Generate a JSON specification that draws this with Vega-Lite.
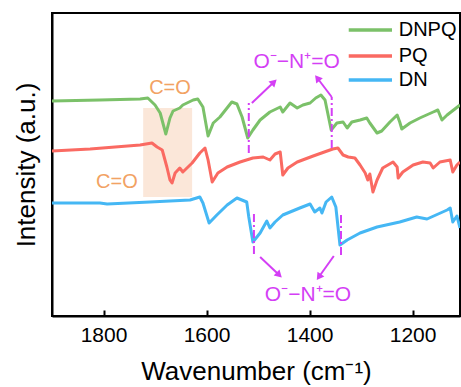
{
  "$schema": "https://vega.github.io/schema/vega-lite/v6.json",
  "width": 408,
  "height": 303,
  "autosize": "none",
  "padding": {"left": 52, "top": 13, "right": 1, "bottom": 71},
  "background": "white",
  "config": {
    "font": "Liberation Sans",
    "view": {"stroke": "black", "strokeWidth": 2},
    "axis": {"grid": false}
  },
  "datasets": {
    "spectra": [
      {"s":"DNPQ","wn":1900,"i":215},{"s":"DNPQ","wn":1807,"i":216},{"s":"DNPQ","wn":1729,"i":217},{"s":"DNPQ","wn":1714,"i":218},{"s":"DNPQ","wn":1700,"i":211},{"s":"DNPQ","wn":1690,"i":203},{"s":"DNPQ","wn":1679,"i":182},{"s":"DNPQ","wn":1671,"i":198},{"s":"DNPQ","wn":1665,"i":205},{"s":"DNPQ","wn":1652,"i":208},{"s":"DNPQ","wn":1646,"i":211},{"s":"DNPQ","wn":1626,"i":216},{"s":"DNPQ","wn":1617,"i":217},{"s":"DNPQ","wn":1607,"i":209},{"s":"DNPQ","wn":1597,"i":180},{"s":"DNPQ","wn":1587,"i":193},{"s":"DNPQ","wn":1574,"i":199},{"s":"DNPQ","wn":1551,"i":214},{"s":"DNPQ","wn":1541,"i":212},{"s":"DNPQ","wn":1531,"i":199},{"s":"DNPQ","wn":1520,"i":178},{"s":"DNPQ","wn":1510,"i":186},{"s":"DNPQ","wn":1496,"i":196},{"s":"DNPQ","wn":1477,"i":204},{"s":"DNPQ","wn":1457,"i":209},{"s":"DNPQ","wn":1452,"i":204},{"s":"DNPQ","wn":1438,"i":213},{"s":"DNPQ","wn":1424,"i":208},{"s":"DNPQ","wn":1413,"i":211},{"s":"DNPQ","wn":1399,"i":213},{"s":"DNPQ","wn":1388,"i":218},{"s":"DNPQ","wn":1378,"i":221},{"s":"DNPQ","wn":1370,"i":216},{"s":"DNPQ","wn":1358,"i":186},{"s":"DNPQ","wn":1347,"i":193},{"s":"DNPQ","wn":1335,"i":194},{"s":"DNPQ","wn":1327,"i":188},{"s":"DNPQ","wn":1318,"i":194},{"s":"DNPQ","wn":1302,"i":196},{"s":"DNPQ","wn":1289,"i":198},{"s":"DNPQ","wn":1283,"i":193},{"s":"DNPQ","wn":1269,"i":183},{"s":"DNPQ","wn":1260,"i":185},{"s":"DNPQ","wn":1244,"i":194},{"s":"DNPQ","wn":1230,"i":201},{"s":"DNPQ","wn":1225,"i":194},{"s":"DNPQ","wn":1221,"i":187},{"s":"DNPQ","wn":1205,"i":193},{"s":"DNPQ","wn":1186,"i":198},{"s":"DNPQ","wn":1160,"i":204},{"s":"DNPQ","wn":1151,"i":206},{"s":"DNPQ","wn":1143,"i":196},{"s":"DNPQ","wn":1133,"i":201},{"s":"DNPQ","wn":1108,"i":211},
      {"s":"PQ","wn":1900,"i":165},{"s":"PQ","wn":1826,"i":167},{"s":"PQ","wn":1729,"i":171},{"s":"PQ","wn":1706,"i":173},{"s":"PQ","wn":1696,"i":169},{"s":"PQ","wn":1686,"i":166},{"s":"PQ","wn":1677,"i":149},{"s":"PQ","wn":1671,"i":136},{"s":"PQ","wn":1667,"i":133},{"s":"PQ","wn":1661,"i":143},{"s":"PQ","wn":1652,"i":148},{"s":"PQ","wn":1646,"i":144},{"s":"PQ","wn":1628,"i":153},{"s":"PQ","wn":1613,"i":163},{"s":"PQ","wn":1603,"i":168},{"s":"PQ","wn":1597,"i":156},{"s":"PQ","wn":1589,"i":134},{"s":"PQ","wn":1578,"i":143},{"s":"PQ","wn":1560,"i":149},{"s":"PQ","wn":1535,"i":154},{"s":"PQ","wn":1510,"i":158},{"s":"PQ","wn":1490,"i":159},{"s":"PQ","wn":1477,"i":156},{"s":"PQ","wn":1467,"i":162},{"s":"PQ","wn":1457,"i":164},{"s":"PQ","wn":1452,"i":141},{"s":"PQ","wn":1442,"i":148},{"s":"PQ","wn":1424,"i":154},{"s":"PQ","wn":1393,"i":160},{"s":"PQ","wn":1355,"i":167},{"s":"PQ","wn":1345,"i":168},{"s":"PQ","wn":1335,"i":161},{"s":"PQ","wn":1325,"i":159},{"s":"PQ","wn":1312,"i":158},{"s":"PQ","wn":1302,"i":151},{"s":"PQ","wn":1292,"i":143},{"s":"PQ","wn":1287,"i":136},{"s":"PQ","wn":1283,"i":142},{"s":"PQ","wn":1277,"i":124},{"s":"PQ","wn":1269,"i":136},{"s":"PQ","wn":1258,"i":148},{"s":"PQ","wn":1238,"i":154},{"s":"PQ","wn":1230,"i":149},{"s":"PQ","wn":1228,"i":138},{"s":"PQ","wn":1219,"i":144},{"s":"PQ","wn":1199,"i":151},{"s":"PQ","wn":1180,"i":154},{"s":"PQ","wn":1166,"i":153},{"s":"PQ","wn":1160,"i":148},{"s":"PQ","wn":1147,"i":154},{"s":"PQ","wn":1127,"i":156},{"s":"PQ","wn":1122,"i":144},{"s":"PQ","wn":1114,"i":151},{"s":"PQ","wn":1108,"i":154},
      {"s":"DN","wn":1900,"i":113},{"s":"DN","wn":1807,"i":113},{"s":"DN","wn":1793,"i":112},{"s":"DN","wn":1710,"i":114},{"s":"DN","wn":1632,"i":116},{"s":"DN","wn":1613,"i":119},{"s":"DN","wn":1607,"i":113},{"s":"DN","wn":1595,"i":93},{"s":"DN","wn":1580,"i":101},{"s":"DN","wn":1560,"i":111},{"s":"DN","wn":1541,"i":118},{"s":"DN","wn":1522,"i":114},{"s":"DN","wn":1518,"i":99},{"s":"DN","wn":1510,"i":74},{"s":"DN","wn":1496,"i":83},{"s":"DN","wn":1483,"i":95},{"s":"DN","wn":1477,"i":88},{"s":"DN","wn":1467,"i":94},{"s":"DN","wn":1452,"i":101},{"s":"DN","wn":1419,"i":108},{"s":"DN","wn":1399,"i":112},{"s":"DN","wn":1390,"i":104},{"s":"DN","wn":1380,"i":108},{"s":"DN","wn":1376,"i":103},{"s":"DN","wn":1368,"i":114},{"s":"DN","wn":1357,"i":119},{"s":"DN","wn":1349,"i":109},{"s":"DN","wn":1341,"i":71},{"s":"DN","wn":1327,"i":76},{"s":"DN","wn":1302,"i":83},{"s":"DN","wn":1269,"i":89},{"s":"DN","wn":1225,"i":94},{"s":"DN","wn":1192,"i":99},{"s":"DN","wn":1172,"i":97},{"s":"DN","wn":1133,"i":106},{"s":"DN","wn":1127,"i":108},{"s":"DN","wn":1122,"i":94},{"s":"DN","wn":1114,"i":100},{"s":"DN","wn":1108,"i":88}
    ]
  },
  "layer": [
    {
      "data": {"values": [{"a": 1723, "b": 1628, "y1": 119, "y2": 208}]},
      "mark": {"type": "rect", "color": "#FBE7D9"},
      "encoding": {
        "x": {"field": "a", "type": "quantitative"},
        "x2": {"field": "b"},
        "y": {"field": "y1", "type": "quantitative"},
        "y2": {"field": "y2"}
      }
    },
    {
      "data": {"name": "spectra"},
      "mark": {"type": "line", "strokeWidth": 3, "clip": true, "strokeJoin": "round"},
      "encoding": {
        "x": {
          "field": "wn", "type": "quantitative",
          "scale": {"domain": [1108, 1900], "reverse": true, "nice": false, "zero": false},
          "axis": {
            "values": [1800, 1600, 1400, 1200], "format": "d",
            "title": "Wavenumber (cm⁻¹)",
            "titleFontSize": 26, "titleFontWeight": "normal", "titleColor": "black", "titlePadding": 13,
            "labelFontSize": 21, "labelColor": "black", "labelPadding": 14,
            "tickSize": -6, "tickWidth": 2, "tickColor": "black",
            "domainColor": "black", "domainWidth": 2
          }
        },
        "y": {
          "field": "i", "type": "quantitative",
          "scale": {"domain": [0, 303], "nice": false, "zero": false},
          "axis": {
            "title": "Intensity (a.u.)", "labels": false, "ticks": false,
            "titleFontSize": 26, "titleFontWeight": "normal", "titleColor": "black", "titlePadding": 13,
            "domainColor": "black", "domainWidth": 2
          }
        },
        "color": {
          "field": "s", "type": "nominal",
          "scale": {"domain": ["DNPQ", "PQ", "DN"], "range": ["#7BC169", "#FA6A62", "#45B7F4"]},
          "legend": null
        },
        "order": {"field": "wn", "type": "quantitative", "sort": "descending"}
      }
    },
    {
      "data": {"values": [
        {"s": "DNPQ", "xa": 1324, "xb": 1240, "y": 286},
        {"s": "PQ", "xa": 1324, "xb": 1240, "y": 260},
        {"s": "DN", "xa": 1324, "xb": 1240, "y": 236}
      ]},
      "mark": {"type": "rule", "strokeWidth": 3.5},
      "encoding": {
        "x": {"field": "xa", "type": "quantitative"},
        "x2": {"field": "xb"},
        "y": {"field": "y", "type": "quantitative"},
        "color": {"field": "s", "type": "nominal"}
      }
    },
    {
      "data": {"values": [
        {"s": "DNPQ", "x": 1227, "y": 286},
        {"s": "PQ", "x": 1227, "y": 260},
        {"s": "DN", "x": 1227, "y": 236}
      ]},
      "mark": {"type": "text", "color": "black", "fontSize": 20, "align": "left", "baseline": "middle"},
      "encoding": {
        "x": {"field": "x", "type": "quantitative"},
        "y": {"field": "y", "type": "quantitative"},
        "text": {"field": "s"}
      }
    },
    {
      "data": {"values": [
        {"wn": 1518, "ya": 163, "yb": 213},
        {"wn": 1357, "ya": 168, "yb": 219},
        {"wn": 1508, "ya": 62, "yb": 104},
        {"wn": 1339, "ya": 61, "yb": 104}
      ]},
      "mark": {"type": "rule", "color": "#D43FF5", "strokeWidth": 2, "strokeDash": [8, 3, 2, 3]},
      "encoding": {
        "x": {"field": "wn", "type": "quantitative"},
        "y": {"field": "ya", "type": "quantitative"},
        "y2": {"field": "yb"}
      }
    },
    {
      "data": {"values": [
        {"xa": 1512, "ya": 213, "xb": 1469, "yb": 234},
        {"xa": 1357, "ya": 219, "xb": 1385, "yb": 238},
        {"xa": 1496, "ya": 59, "xb": 1459, "yb": 41},
        {"xa": 1353, "ya": 60, "xb": 1382, "yb": 39}
      ]},
      "mark": {"type": "rule", "color": "#D43FF5", "strokeWidth": 2},
      "encoding": {
        "x": {"field": "xa", "type": "quantitative"},
        "x2": {"field": "xb"},
        "y": {"field": "ya", "type": "quantitative"},
        "y2": {"field": "yb"}
      }
    },
    {
      "data": {"values": [{"wn": 1469, "y": 234}]},
      "mark": {"type": "point", "shape": "triangle-up", "filled": true, "color": "#D43FF5", "opacity": 1, "size": 70, "angle": 46},
      "encoding": {"x": {"field": "wn", "type": "quantitative"}, "y": {"field": "y", "type": "quantitative"}}
    },
    {
      "data": {"values": [{"wn": 1385, "y": 238}]},
      "mark": {"type": "point", "shape": "triangle-up", "filled": true, "color": "#D43FF5", "opacity": 1, "size": 70, "angle": 322},
      "encoding": {"x": {"field": "wn", "type": "quantitative"}, "y": {"field": "y", "type": "quantitative"}}
    },
    {
      "data": {"values": [{"wn": 1459, "y": 41}]},
      "mark": {"type": "point", "shape": "triangle-up", "filled": true, "color": "#D43FF5", "opacity": 1, "size": 70, "angle": 134},
      "encoding": {"x": {"field": "wn", "type": "quantitative"}, "y": {"field": "y", "type": "quantitative"}}
    },
    {
      "data": {"values": [{"wn": 1382, "y": 39}]},
      "mark": {"type": "point", "shape": "triangle-up", "filled": true, "color": "#D43FF5", "opacity": 1, "size": 70, "angle": 215},
      "encoding": {"x": {"field": "wn", "type": "quantitative"}, "y": {"field": "y", "type": "quantitative"}}
    },
    {
      "data": {"values": [
        {"wn": 1671, "y": 228, "t": "C=O"},
        {"wn": 1774, "y": 134, "t": "C=O"}
      ]},
      "mark": {"type": "text", "color": "#F2A263", "fontSize": 20, "align": "center", "baseline": "middle"},
      "encoding": {
        "x": {"field": "wn", "type": "quantitative"},
        "y": {"field": "y", "type": "quantitative"},
        "text": {"field": "t"}
      }
    },
    {
      "data": {"values": [
        {"wn": 1425, "y": 254, "t": "O⁻−N⁺=O"},
        {"wn": 1403, "y": 21, "t": "O⁻−N⁺=O"}
      ]},
      "mark": {"type": "text", "color": "#D43FF5", "fontSize": 21, "align": "center", "baseline": "middle"},
      "encoding": {
        "x": {"field": "wn", "type": "quantitative"},
        "y": {"field": "y", "type": "quantitative"},
        "text": {"field": "t"}
      }
    }
  ]
}
